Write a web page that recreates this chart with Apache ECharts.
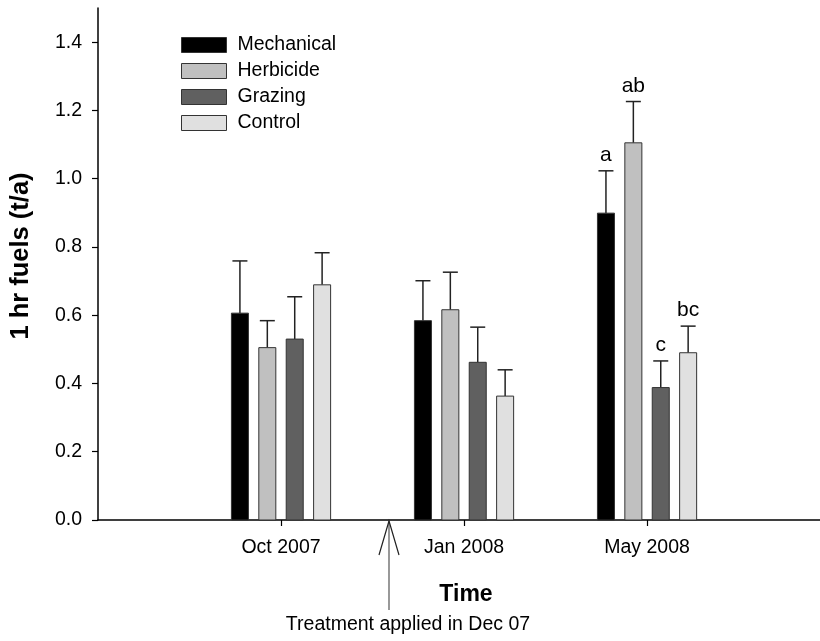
<!DOCTYPE html>
<html><head><meta charset="utf-8">
<script src="https://cdn.jsdelivr.net/npm/echarts@6/dist/echarts.min.js"></script>
<style>html,body{margin:0;padding:0;background:#fff}#c{width:820px;height:641px}</style>
</head><body><div id="c"></div>
<script>
// ---- data ----
const categories = ['Oct 2007', 'Jan 2008', 'May 2008'];
const categoryPositions = [1, 2, 3];
const seriesNames = ['Mechanical', 'Herbicide', 'Grazing', 'Control'];
const mechanical = [0.606, 0.584, 0.899];
const herbicide  = [0.505, 0.616, 1.105];
const grazing    = [0.530, 0.462, 0.388];
const control    = [0.689, 0.363, 0.490];
const mechanicalSE = [0.153, 0.117, 0.124];
const herbicideSE  = [0.079, 0.110, 0.121];
const grazingSE    = [0.124, 0.103, 0.078];
const controlSE    = [0.094, 0.077, 0.078];
const mechanicalLetters = ['', '', 'a'];
const herbicideLetters  = ['', '', 'ab'];
const grazingLetters    = ['', '', 'c'];
const controlLetters    = ['', '', 'bc'];
const yTicks = [0, 0.2, 0.4, 0.6, 0.8, 1.0, 1.2, 1.4];
const treatmentPosition = 1.59;
const treatmentLabel = 'Treatment applied in Dec 07';

// ---- style ----
const colors = ['#000000', '#c0c0c0', '#606060', '#e0e0e0'];
const BAR_STEP = 0.1497;
const BAR_W = 0.093;
const FONT = 'Arial, "Liberation Sans", sans-serif';

function makeSeries(name, idx, vals, ses, letters) {
  return {
    type: 'custom', name: name,
    itemStyle: { color: colors[idx], borderColor: '#333', borderWidth: 1 },
    data: vals.map((v, i) => [categoryPositions[i], v, ses[i]]),
    encode: { x: 0, y: 1 },
    renderItem: function (params, api) {
      const c = api.value(0), v = api.value(1), e = api.value(2);
      const xc = c + (idx - 1.5) * BAR_STEP;
      const p0 = api.coord([xc - BAR_W / 2, v]);
      const p1 = api.coord([xc + BAR_W / 2, 0]);
      const mid = api.coord([xc, v]);
      const top = api.coord([xc, v + e]);
      const children = [
        { type: 'line', shape: { x1: mid[0], y1: mid[1], x2: top[0], y2: top[1] },
          style: { stroke: '#222', lineWidth: 1.5 } },
        { type: 'line', shape: { x1: top[0] - 7.5, y1: top[1], x2: top[0] + 7.5, y2: top[1] },
          style: { stroke: '#222', lineWidth: 1.5 } },
        { type: 'rect', shape: { x: p0[0], y: p0[1], width: p1[0] - p0[0], height: p1[1] - p0[1] },
          style: { fill: colors[idx], stroke: '#333', lineWidth: 1 } }
      ];
      const lt = letters[params.dataIndex];
      if (lt) {
        children.push({ type: 'text', style: { text: lt, x: top[0], y: top[1] - 5,
          align: 'center', verticalAlign: 'bottom', fill: '#000', font: '21px ' + FONT } });
      }
      return { type: 'group', children: children };
    }
  };
}

const chart = echarts.init(document.getElementById('c'), null, { renderer: 'canvas' });
chart.setOption({
  animation: false,
  backgroundColor: '#fff',
  grid: { left: 98, right: 0, top: 8, bottom: 121 },
  legend: {
    orient: 'vertical', left: 176, top: 30, itemWidth: 45, itemHeight: 15, itemGap: 6,
    icon: 'rect',
    textStyle: { fontSize: 19.5, fontFamily: FONT, color: '#000', padding: [0, 0, 0, 6] },
    data: seriesNames.map((n, i) => ({ name: n, itemStyle: { color: colors[i], borderColor: '#333', borderWidth: 1 } }))
  },
  xAxis: {
    type: 'value', min: 0, max: 3.945,
    name: 'Time', nameLocation: 'middle', nameGap: 60,
    nameTextStyle: { fontSize: 23, fontWeight: 'bold', fontFamily: FONT, color: '#000', padding: [3, 0, 0, 14] },
    splitLine: { show: false },
    axisLine: { lineStyle: { color: '#000', width: 1.5 } },
    axisTick: { show: true, length: 6, customValues: categoryPositions, lineStyle: { color: '#000', width: 1.2 } },
    axisLabel: { customValues: categoryPositions, margin: 18, fontSize: 19.5, fontFamily: FONT, color: '#000',
      formatter: v => categories[categoryPositions.indexOf(v)] || '' }
  },
  yAxis: {
    type: 'value', min: 0, max: 1.5,
    name: '1 hr fuels (t/a)', nameLocation: 'middle', nameGap: 64,
    nameTextStyle: { fontSize: 25.5, fontWeight: 'bold', fontFamily: FONT, color: '#000', padding: [0, 0, 0, 16] },
    splitLine: { show: false },
    axisLine: { show: true, lineStyle: { color: '#000', width: 1.5 } },
    axisTick: { show: true, length: 6, customValues: yTicks, lineStyle: { color: '#000', width: 1.2 } },
    axisLabel: { customValues: yTicks, margin: 16, fontSize: 19.5, fontFamily: FONT, color: '#000',
      formatter: v => v.toFixed(1) }
  },
  series: [
    makeSeries(seriesNames[0], 0, mechanical, mechanicalSE, mechanicalLetters),
    makeSeries(seriesNames[1], 1, herbicide, herbicideSE, herbicideLetters),
    makeSeries(seriesNames[2], 2, grazing, grazingSE, grazingLetters),
    makeSeries(seriesNames[3], 3, control, controlSE, controlLetters),
    {
      type: 'custom', name: 'annotation', silent: true, clip: false,
      data: [[treatmentPosition, 0]],
      encode: { x: 0, y: 1 },
      renderItem: function (params, api) {
        const p = api.coord([api.value(0), api.value(1)]);
        const x = p[0], y = p[1];
        return { type: 'group', children: [
          { type: 'line', shape: { x1: x, y1: y + 1, x2: x, y2: y + 90 }, style: { stroke: '#777', lineWidth: 1.5 } },
          { type: 'polyline', shape: { points: [[x - 10, y + 35], [x, y + 1], [x + 10, y + 35]] },
            style: { stroke: '#222', lineWidth: 1.2, fill: null } },
          { type: 'text', style: { text: treatmentLabel, x: x + 19, y: y + 105, align: 'center',
            verticalAlign: 'middle', fill: '#000', font: '19.5px ' + FONT } }
        ] };
      }
    }
  ]
});
</script></body></html>
